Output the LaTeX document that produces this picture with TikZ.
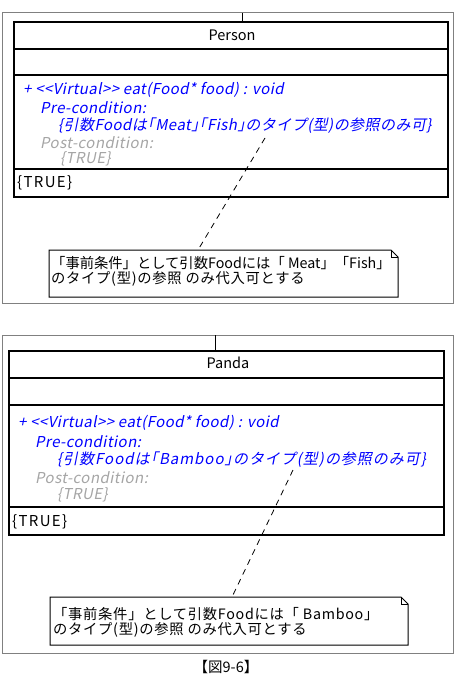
\documentclass[tikz,border=0pt]{standalone}
\usepackage{fontspec}
\setmainfont{Noto Sans CJK JP}
\newfontfamily\jpit[FakeSlant=0.2, LetterSpace=3]{Noto Sans CJK JP}
\newfontfamily\jpitwide[FakeSlant=0.2, LetterSpace=6.5]{Noto Sans CJK JP}
\newfontfamily\jpwide[LetterSpace=5]{Noto Sans CJK JP}
\newfontfamily\jpwider[LetterSpace=9]{Noto Sans CJK JP}
\definecolor{umlblue}{RGB}{0,0,255}
\definecolor{postgray}{RGB}{165,165,165}
\definecolor{framegray}{RGB}{128,128,128}
\begin{document}
\begin{tikzpicture}[x=1pt,y=-1pt,
  frame/.style={draw=framegray, line width=1pt},
  classbox/.style={draw=black, line width=2pt},
  sep/.style={draw=black, line width=2pt},
  optext/.style={anchor=west, inner sep=0pt, text=umlblue, font=\jpit\fontsize{15}{16}\selectfont},
  optextwide/.style={optext, font=\jpitwide\fontsize{15}{16}\selectfont},
  posttext/.style={optext, text=postgray},
  plaintext/.style={anchor=west, inner sep=0pt, font=\jpwider\fontsize{15}{16}\selectfont},
  nametext/.style={inner sep=0pt, font=\fontsize{14.5}{16}\selectfont},
  notetext/.style={anchor=west, inner sep=0pt, font=\fontsize{14.3}{16}\selectfont},
  notetextwide/.style={notetext, font=\jpwide\fontsize{14.3}{16}\selectfont},
  notebox/.style={draw=black, line width=1pt, fill=white},
  connector/.style={draw=black, line width=0.8pt, dash pattern=on 6pt off 5pt},
  link/.style={draw=black, line width=1pt}
]
\useasboundingbox (0,0) rectangle (455,685);

% ===== Top panel (Person) =====
\draw[frame] (2,13) rectangle (453,303);
\coordinate (pframe) at (242,13);
\coordinate (ptop) at (242,22);
\draw[link] (pframe) -- (ptop);
\draw[classbox] (14,22) rectangle (448,197);
\draw[sep] (14,49) -- (448,49);
\draw[sep] (14,75) -- (448,75);
\draw[sep] (14,169) -- (448,169);
\node[nametext] (pname) at (232,35) {Person};
\node[optext] (pop) at (23,90) {+ <<Virtual>> eat(Food* food) : void};
\node[optext] (ppre) at (40,108) {Pre-condition:};
\node[optext] (pprecond) at (58,126) {\{引数Foodは｢Meat｣｢Fish｣のタイプ(型)の参照のみ可\}};
\node[posttext] (ppost) at (40,143) {Post-condition:};
\node[posttext] (pposttrue) at (60,159) {\{TRUE\}};
\node[plaintext] (pinv) at (17,183) {\{TRUE\}};
% note
\draw[notebox] (49,250) -- (391,250) -- (398,257) -- (398,297) -- (49,297) -- cycle;
\draw[line width=0.8pt] (391,250) -- (391,257) -- (398,257);
\coordinate (pnote) at (198,250);
\coordinate (pfrom) at (265,138);
\node[notetext] (pnl1) at (51,263) {「事前条件」として引数Foodには「 Meat」「Fish」};
\node[notetextwide] (pnl2) at (51,279) {のタイプ(型)の参照 のみ代入可とする};
\draw[connector] (pfrom) -- (pnote);

% ===== Bottom panel (Panda) =====
\draw[frame] (2,335) rectangle (453,653);
\coordinate (aframe) at (215,335);
\coordinate (atop) at (215,351);
\draw[link] (aframe) -- (atop);
\draw[classbox] (9,351) rectangle (444,535);
\draw[sep] (9,378) -- (444,378);
\draw[sep] (9,405) -- (444,405);
\draw[sep] (9,507) -- (444,507);
\node[nametext] (aname) at (228,363) {Panda};
\node[optext] (aop) at (18,423) {+ <<Virtual>> eat(Food* food) : void};
\node[optext] (apre) at (35,442) {Pre-condition:};
\node[optextwide] (aprecond) at (57,460) {\{引数Foodは｢Bamboo｣のタイプ(型)の参照のみ可\}};
\node[posttext] (apost) at (35,478) {Post-condition:};
\node[posttext] (aposttrue) at (57,495) {\{TRUE\}};
\node[plaintext] (ainv) at (12,522) {\{TRUE\}};
% note
\draw[notebox] (50,597) -- (401,597) -- (408,604) -- (408,645) -- (50,645) -- cycle;
\draw[line width=0.8pt] (401,597) -- (401,604) -- (408,604);
\coordinate (anote) at (232,597);
\coordinate (afrom) at (293,470);
\node[notetextwide] (anl1) at (53,614) {「事前条件」として引数Foodには「 Bamboo」};
\node[notetextwide] (anl2) at (53,630) {のタイプ(型)の参照 のみ代入可とする};
\draw[connector] (afrom) -- (anote);

% caption
\node[nametext] (caption) at (226,667) {【図9-6】};
\end{tikzpicture}
\end{document}
